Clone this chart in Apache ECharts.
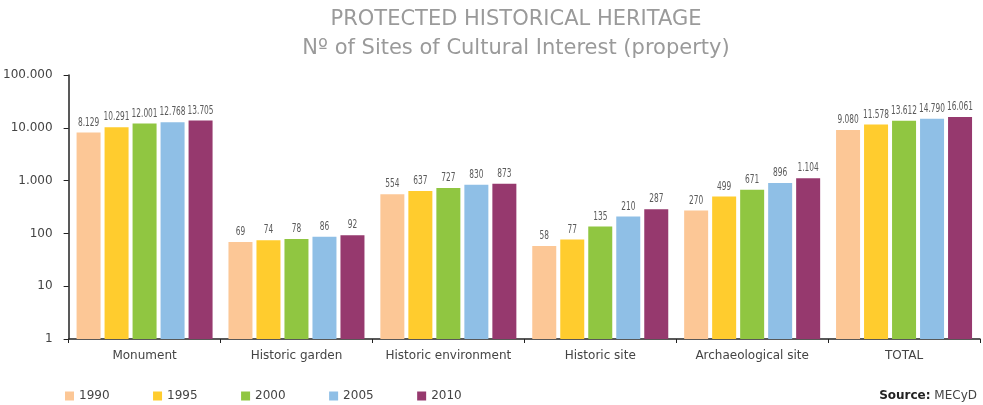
<!DOCTYPE html>
<html>
<head>
<meta charset="utf-8">
<script src="https://cdn.jsdelivr.net/npm/echarts@6/dist/echarts.min.js"></script>
<style>
  html, body { margin: 0; padding: 0; background: #fff; }
  #chart { width: 983px; height: 405px; }
</style>
</head>
<body>
<div id="chart"></div>
<script>
// categorías y series
const categories = ['Monument', 'Historic garden', 'Historic environment', 'Historic site', 'Archaeological site', 'TOTAL']
const years = ['1990', '1995', '2000', '2005', '2010']
const values1990 = [8129, 69, 554, 58, 270, 9080]
const values1995 = [10291, 74, 637, 77, 499, 11578]
const values2000 = [12001, 78, 727, 135, 671, 13612]
const values2005 = [12768, 86, 830, 210, 896, 14790]
const values2010 = [13705, 92, 873, 287, 1104, 16061]
const yTicks = [1, 10, 100, 1000, 10000, 100000]

const seriesValues = [values1990, values1995, values2000, values2005, values2010]
const colors = ['#FCC796', '#FFCC2E', '#90C641', '#8FBFE6', '#96396E']

const mainFont = 'DejaVu Sans, sans-serif'
const BAR_W = 24
const BAR_GAP = 4

// 1.234 style
function fmt(v) {
  return String(v).replace(/\B(?=(\d{3})+(?!\d))/g, '.')
}

const chart = echarts.init(document.getElementById('chart'))

const series = years.map((y, i) => ({
  name: y,
  type: 'bar',
  data: seriesValues[i],
  barWidth: BAR_W,
  barGap: (BAR_GAP / BAR_W * 100) + '%',
  itemStyle: { color: colors[i] }
}))

// etiquetas estrechas encima de cada barra (texto comprimido en horizontal)
const labelData = []
seriesValues.forEach((vals, s) => {
  vals.forEach((v, c) => labelData.push([c, v, s]))
})

series.push({
  type: 'custom',
  name: 'labels',
  data: labelData,
  encode: { x: 0, y: 1 },
  z: 10,
  silent: true,
  renderItem(params, api) {
    const pt = api.coord([api.value(0), api.value(1)])
    const s = api.value(2)
    const off = (s - (years.length - 1) / 2) * (BAR_W + BAR_GAP)
    return {
      type: 'text',
      x: pt[0] + off,
      y: pt[1] - 4,
      scaleX: 0.62,
      style: {
        text: fmt(api.value(1)),
        fill: '#5a5a5a',
        font: '12px ' + mainFont,
        align: 'center',
        verticalAlign: 'bottom'
      }
    }
  }
})

chart.setOption({
  animation: false,
  textStyle: { fontFamily: mainFont },
  title: {
    text: 'PROTECTED HISTORICAL HERITAGE\nNº of Sites of Cultural Interest (property)',
    left: 511,
    textAlign: 'center',
    top: 0,
    textStyle: {
      color: '#9a9a9a',
      fontSize: 21,
      fontWeight: 'normal',
      lineHeight: 29,
      fontFamily: mainFont
    }
  },
  legend: {
    data: years,
    left: 60,
    top: 385,
    icon: 'rect',
    itemWidth: 9,
    itemHeight: 9,
    itemGap: 43.5,
    textStyle: { color: '#444', fontSize: 12, fontFamily: mainFont }
  },
  graphic: [{
    type: 'text',
    right: 6,
    top: 390,
    style: {
      text: '{b|Source:} MECyD',
      fill: '#444',
      font: '12px ' + mainFont,
      rich: {
        b: { fontWeight: 'bold', fill: '#222', fontSize: 12, fontFamily: mainFont }
      }
    }
  }],
  grid: { left: 66, right: 3, top: 75, bottom: 66, containLabel: false },
  xAxis: {
    type: 'category',
    data: categories,
    axisLine: { lineStyle: { color: '#222', width: 1.5 } },
    axisTick: { show: true, length: 4, lineStyle: { color: '#222' } },
    axisLabel: { interval: 0, color: '#444', fontSize: 12, margin: 11, fontFamily: mainFont }
  },
  yAxis: {
    type: 'log',
    logBase: 10,
    min: yTicks[0],
    max: yTicks[yTicks.length - 1],
    axisLine: { show: true, lineStyle: { color: '#222', width: 1.5 } },
    axisTick: { show: true, length: 5, lineStyle: { color: '#222' } },
    splitLine: { show: false },
    axisLabel: { color: '#444', fontSize: 12, margin: 16, fontFamily: mainFont, formatter: v => fmt(v) }
  },
  series
})
</script>
</body>
</html>
